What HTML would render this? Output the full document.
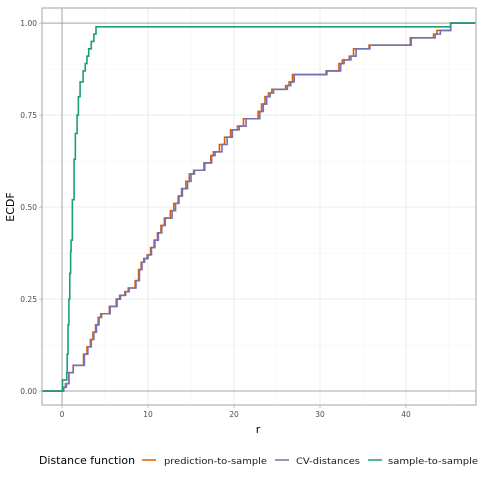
<!DOCTYPE html>
<html><head><meta charset="utf-8"><style>
body{margin:0;background:#fff;font-family:"DejaVu Sans",sans-serif;}
svg text{font-family:"DejaVu Sans",sans-serif;}
</style></head><body>
<svg id="chart" width="480" height="480">
<g id="grid"></g>
<g id="series"></g>
<g id="axes"></g>
<text x="258" y="433" font-size="11" fill="#000" text-anchor="middle">r</text>
<text x="14" y="207" font-size="11" fill="#000" text-anchor="middle" transform="rotate(-90 14 207)">ECDF</text>
<g>
<text x="39" y="464" font-size="11" fill="#000" textLength="96" lengthAdjust="spacingAndGlyphs">Distance function</text>
<g><line x1="142" y1="460" x2="156" y2="460" stroke="#D95F02" stroke-width="1.5"/><text x="164" y="464" font-size="9" fill="#1a1a1a" textLength="103" lengthAdjust="spacingAndGlyphs">prediction-to-sample</text></g>
<g><line x1="275" y1="460" x2="289" y2="460" stroke="#7570B3" stroke-width="1.5"/><text x="296" y="464" font-size="9" fill="#1a1a1a" textLength="64" lengthAdjust="spacingAndGlyphs">CV-distances</text></g>
<g><line x1="368" y1="460" x2="382" y2="460" stroke="#1B9E77" stroke-width="1.5"/><text x="388" y="464" font-size="9" fill="#1a1a1a" textLength="90" lengthAdjust="spacingAndGlyphs">sample-to-sample</text></g>
</g>
</svg>
<script>
const xTicks=[0,10,20,30,40];
const yTicks=[0,0.25,0.5,0.75,1];
const yTickLabels=["0.00","0.25","0.50","0.75","1.00"];
const cvR=[0.2,0.5,0.8,1.3,2.6,3.0,3.4,3.7,4.0,4.3,4.6,5.6,6.4,6.8,7.4,7.8,8.6,9.0,9.3,9.6,10.0,10.4,10.8,11.2,11.6,12.0,12.8,13.2,13.6,14.0,14.6,15.0,15.4,16.6,17.4,17.8,18.6,19.2,19.8,20.6,21.4,23.0,23.4,23.8,24.2,24.6,26.2,26.6,27.0,30.8,32.4,32.8,33.6,34.2,35.8,40.6,43.4,44.0,45.2];
const cvF=[0.01,0.02,0.05,0.07,0.10,0.12,0.14,0.16,0.18,0.20,0.21,0.23,0.25,0.26,0.27,0.28,0.30,0.33,0.35,0.36,0.37,0.39,0.41,0.43,0.45,0.47,0.49,0.51,0.53,0.55,0.57,0.59,0.60,0.62,0.64,0.65,0.67,0.69,0.71,0.72,0.74,0.76,0.78,0.80,0.81,0.82,0.83,0.84,0.86,0.87,0.89,0.90,0.91,0.93,0.94,0.96,0.97,0.98,1.0];
const predR=[0.1,0.4,0.8,1.3,2.5,2.9,3.3,3.6,3.9,4.2,4.5,5.5,6.3,6.7,7.3,7.7,8.5,8.9,9.2,9.5,9.9,10.3,10.7,11.1,11.5,11.9,12.6,13.0,13.5,13.9,14.4,14.8,15.3,16.5,17.3,17.6,18.3,18.9,19.6,20.4,21.1,22.8,23.2,23.6,24.0,24.4,26.0,26.4,26.8,30.7,32.2,32.6,33.4,33.9,35.7,40.5,43.2,43.6,45.2];
const predF=[0.01,0.02,0.05,0.07,0.10,0.12,0.14,0.16,0.18,0.20,0.21,0.23,0.25,0.26,0.27,0.28,0.30,0.33,0.35,0.36,0.37,0.39,0.41,0.43,0.45,0.47,0.49,0.51,0.53,0.55,0.57,0.59,0.60,0.62,0.64,0.65,0.67,0.69,0.71,0.72,0.74,0.76,0.78,0.80,0.81,0.82,0.83,0.84,0.86,0.87,0.89,0.90,0.91,0.93,0.94,0.96,0.97,0.98,1.0];
const ssR=[0.05,0.55,0.6,0.7,0.8,0.9,1.0,1.05,1.2,1.4,1.55,1.75,1.9,2.1,2.45,2.7,2.9,3.1,3.4,3.7,3.95,45.2];
const ssF=[0.03,0.05,0.10,0.18,0.25,0.32,0.38,0.41,0.52,0.63,0.70,0.75,0.80,0.84,0.87,0.89,0.91,0.93,0.95,0.97,0.99,1.0];
const X0=-2.33,X1=48.14,PX0=42,PX1=476;
const Y0=-0.038,Y1=1.041,PY0=405,PY1=8;
const sx=v=>PX0+(v-X0)/(X1-X0)*(PX1-PX0);
const sy=v=>PY0+(v-Y0)/(Y1-Y0)*(PY1-PY0);
const NS='http://www.w3.org/2000/svg';
function mk(tag,attrs,parent){const e=document.createElementNS(NS,tag);for(const k in attrs)e.setAttribute(k,attrs[k]);parent.appendChild(e);return e;}
const grid=document.getElementById('grid'),axes=document.getElementById('axes'),series=document.getElementById('series');
let bg=mk('rect',{x:PX0,y:PY1,width:PX1-PX0,height:PY0-PY1,fill:'#fff'},grid);


for(let i=0;i<xTicks.length;i++){const m=xTicks[i]+5;if(sx(m)<PX1){let l=mk('line',{x1:sx(m),x2:sx(m),y1:PY1,y2:PY0,stroke:'#f5f5f5','stroke-width':0.6},grid);}}
for(let i=0;i<yTicks.length-1;i++){const m=yTicks[i]+0.125;let l=mk('line',{x1:PX0,x2:PX1,y1:sy(m),y2:sy(m),stroke:'#f5f5f5','stroke-width':0.6},grid);}
xTicks.forEach(t=>{let l=mk('line',{x1:sx(t),x2:sx(t),y1:PY1,y2:PY0,stroke:'#ebebeb','stroke-width':1},grid);
let tx=mk('text',{x:sx(t),y:PY0+12,'font-size':7.5,fill:'#4d4d4d','text-anchor':'middle'},axes);tx.textContent=t;
let tk=mk('line',{x1:sx(t),x2:sx(t),y1:PY0,y2:PY0+3,stroke:'#b3b3b3','stroke-width':0.8},axes);});
yTicks.forEach((t,i)=>{let l=mk('line',{x1:PX0,x2:PX1,y1:sy(t),y2:sy(t),stroke:'#ebebeb','stroke-width':1},grid);
let tx=mk('text',{x:PX0-5,y:sy(t)+3,'font-size':7.5,fill:'#4d4d4d','text-anchor':'end'},axes);tx.textContent=yTickLabels[i];
let tk=mk('line',{x1:PX0-3,x2:PX0,y1:sy(t),y2:sy(t),stroke:'#b3b3b3','stroke-width':0.8},axes);});
[0,1].forEach(v=>{let l=mk('line',{x1:PX0,x2:PX1,y1:sy(v),y2:sy(v),stroke:'#a6a6a6','stroke-width':1},grid);});
let vl=mk('line',{x1:sx(0),x2:sx(0),y1:PY1,y2:PY0,stroke:'#a6a6a6','stroke-width':1},grid);


function stepPath(R,F){let d='M'+PX0+','+sy(0);for(let i=0;i<R.length;i++){d+=' H'+sx(R[i])+' V'+sy(F[i]);}d+=' H'+PX1;return d;}
const defs=[[predR,predF,'#D95F02','prediction-to-sample-line'],[cvR,cvF,'#7570B3','cv-distances-line'],[ssR,ssF,'#1B9E77','sample-to-sample-line']];
defs.forEach(s=>{let p=mk('path',{d:stepPath(s[0],s[1]),fill:'none',stroke:s[2],'stroke-width':1.6},series);});
let br=mk('rect',{x:PX0,y:PY1,width:PX1-PX0,height:PY0-PY1,fill:'none',stroke:'#b3b3b3','stroke-width':1.2},axes);


</script>
</body></html>
